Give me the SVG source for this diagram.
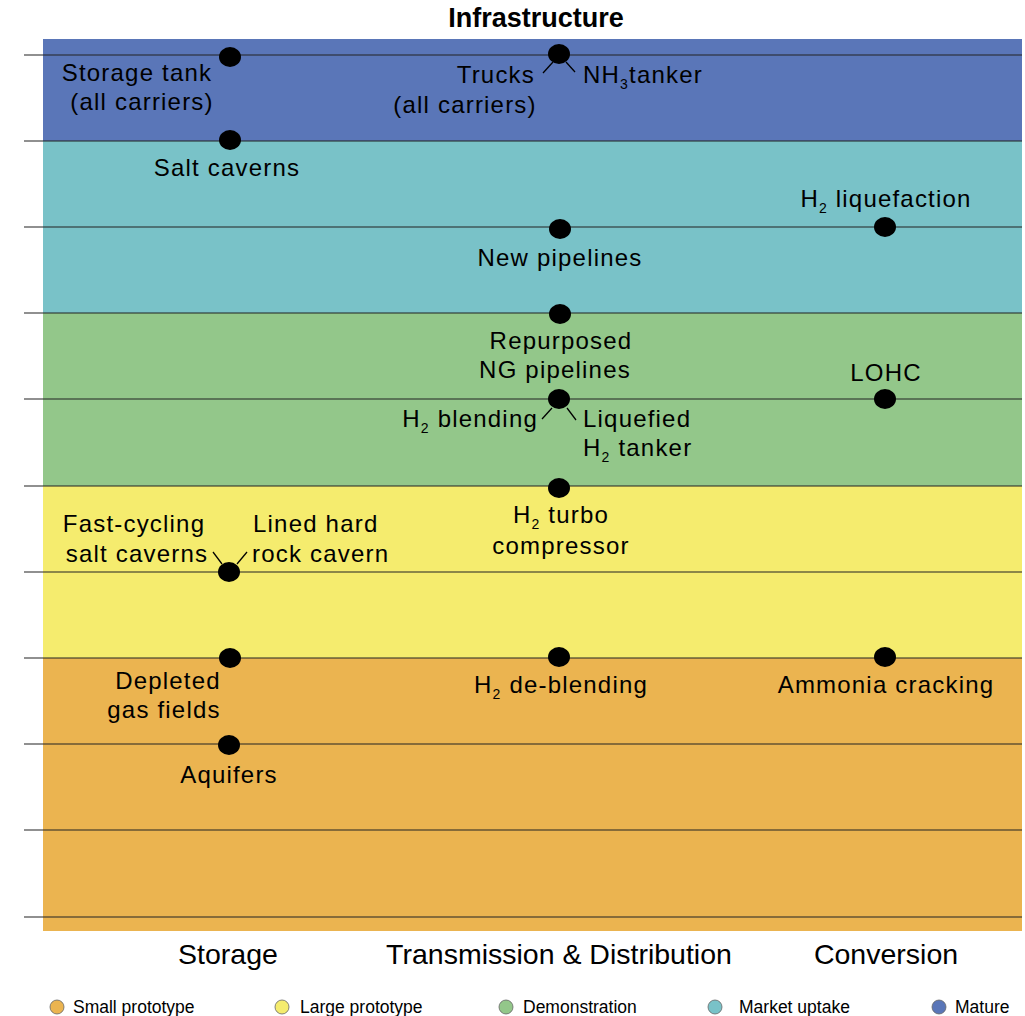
<svg xmlns="http://www.w3.org/2000/svg" width="1025" height="1016" viewBox="0 0 1025 1016">
<style>
.lbl{font-family:"Liberation Sans",Arial,sans-serif;font-size:24px;letter-spacing:1.2px;fill:#000}
.sub{font-size:14px}
.col{font-family:"Liberation Sans",Arial,sans-serif;font-size:28.5px;fill:#000}
.leg{font-family:"Liberation Sans",Arial,sans-serif;font-size:17.5px;fill:#000}
.grid{stroke:#222;stroke-width:1.2}
.dot{fill:#000}
.tick{stroke:#000;stroke-width:1.3;fill:none}
</style>
<rect width="1025" height="1016" fill="#fff"/>
<g id="bands">
<rect x="43" y="39" width="979" height="102" fill="#5A76B8"/>
<rect x="43" y="141" width="979" height="172" fill="#79C2C8"/>
<rect x="43" y="313" width="979" height="173" fill="#93C78A"/>
<rect x="43" y="486" width="979" height="172" fill="#F5EC6E"/>
<rect x="43" y="658" width="979" height="273" fill="#EBB450"/>
</g>
<g id="gridlines" class="grid">
<line x1="24" y1="55" x2="1022" y2="55"/>
<line x1="24" y1="141" x2="1022" y2="141"/>
<line x1="24" y1="227" x2="1022" y2="227"/>
<line x1="24" y1="313" x2="1022" y2="313"/>
<line x1="24" y1="399" x2="1022" y2="399"/>
<line x1="24" y1="486" x2="1022" y2="486"/>
<line x1="24" y1="572" x2="1022" y2="572"/>
<line x1="24" y1="658" x2="1022" y2="658"/>
<line x1="24" y1="744" x2="1022" y2="744"/>
<line x1="24" y1="830" x2="1022" y2="830"/>
<line x1="24" y1="917" x2="1022" y2="917"/>
</g>
<text x="536" y="27" text-anchor="middle" font-family="Liberation Sans,Arial,sans-serif" font-size="27" font-weight="bold">Infrastructure</text>
<g id="connectors" class="tick">
<line x1="553" y1="62" x2="543" y2="73"/>
<line x1="566" y1="62" x2="575" y2="72"/>
<line x1="552" y1="408" x2="542" y2="419"/>
<line x1="567" y1="408" x2="576" y2="420"/>
<line x1="222" y1="564" x2="213" y2="552"/>
<line x1="237" y1="564" x2="247" y2="552"/>
</g>
<g id="storage-tank"><ellipse class="dot" cx="230" cy="57" rx="11" ry="10"/><text class="lbl" x="137" y="81" text-anchor="middle">Storage tank</text><text class="lbl" x="142" y="110" text-anchor="middle">(all carriers)</text></g>
<g id="salt-caverns"><ellipse class="dot" cx="230" cy="140" rx="11" ry="10"/><text class="lbl" x="227" y="176" text-anchor="middle">Salt caverns</text></g>
<g id="trucks-nh3"><ellipse class="dot" cx="559" cy="54" rx="11" ry="10"/><text class="lbl" x="535" y="83" text-anchor="end">Trucks</text><text class="lbl" x="465" y="113" text-anchor="middle">(all carriers)</text><text class="lbl" x="583" y="83">NH<tspan class="sub" dy="6">3</tspan><tspan dy="-6">tanker</tspan></text></g>
<g id="new-pipelines"><ellipse class="dot" cx="560" cy="229" rx="11" ry="10"/><text class="lbl" x="560" y="266" text-anchor="middle">New pipelines</text></g>
<g id="h2-liquefaction"><ellipse class="dot" cx="885" cy="227" rx="11" ry="10"/><text class="lbl" x="886" y="207" text-anchor="middle">H<tspan class="sub" dy="6">2</tspan><tspan dy="-6"> liquefaction</tspan></text></g>
<g id="repurposed"><ellipse class="dot" cx="560" cy="314" rx="11" ry="10"/><text class="lbl" x="561" y="349" text-anchor="middle">Repurposed</text><text class="lbl" x="555" y="378" text-anchor="middle">NG pipelines</text></g>
<g id="lohc"><ellipse class="dot" cx="885" cy="399" rx="11" ry="10"/><text class="lbl" x="886" y="381" text-anchor="middle">LOHC</text></g>
<g id="h2-blending"><ellipse class="dot" cx="559" cy="399" rx="11" ry="10"/><text class="lbl" x="538" y="427" text-anchor="end">H<tspan class="sub" dy="6">2</tspan><tspan dy="-6"> blending</tspan></text><text class="lbl" x="583" y="427">Liquefied</text><text class="lbl" x="583" y="456">H<tspan class="sub" dy="6">2</tspan><tspan dy="-6"> tanker</tspan></text></g>
<g id="h2-turbo"><ellipse class="dot" cx="559" cy="488" rx="11" ry="10"/><text class="lbl" x="561" y="523" text-anchor="middle">H<tspan class="sub" dy="6">2</tspan><tspan dy="-6"> turbo</tspan></text><text class="lbl" x="561" y="554" text-anchor="middle">compressor</text></g>
<g id="fast-cycling"><ellipse class="dot" cx="229" cy="572" rx="11" ry="10"/><text class="lbl" x="134" y="532" text-anchor="middle">Fast-cycling</text><text class="lbl" x="137" y="562" text-anchor="middle">salt caverns</text><text class="lbl" x="253" y="532">Lined hard</text><text class="lbl" x="252" y="562">rock cavern</text></g>
<g id="depleted"><ellipse class="dot" cx="230" cy="658" rx="11" ry="10"/><text class="lbl" x="168" y="689" text-anchor="middle">Depleted</text><text class="lbl" x="164" y="718" text-anchor="middle">gas fields</text></g>
<g id="h2-deblending"><ellipse class="dot" cx="559" cy="657" rx="11" ry="10"/><text class="lbl" x="561" y="693" text-anchor="middle">H<tspan class="sub" dy="6">2</tspan><tspan dy="-6"> de-blending</tspan></text></g>
<g id="ammonia-cracking"><ellipse class="dot" cx="885" cy="657" rx="11" ry="10"/><text class="lbl" x="886" y="693" text-anchor="middle">Ammonia cracking</text></g>
<g id="aquifers"><ellipse class="dot" cx="229" cy="745" rx="11" ry="10"/><text class="lbl" x="229" y="783" text-anchor="middle">Aquifers</text></g>
<g id="columns">
<text class="col" x="228" y="964" text-anchor="middle">Storage</text>
<text class="col" x="559" y="964" text-anchor="middle">Transmission &amp; Distribution</text>
<text class="col" x="886" y="964" text-anchor="middle">Conversion</text>
</g>
<g id="legend" stroke="#666" stroke-width="0.8">
<circle cx="57" cy="1007" r="7" fill="#EBB450"/><text class="leg" x="73" y="1013" stroke="none">Small prototype</text>
<circle cx="282" cy="1007" r="7" fill="#F5EC6E"/><text class="leg" x="300" y="1013" stroke="none">Large prototype</text>
<circle cx="506" cy="1007" r="7" fill="#93C78A"/><text class="leg" x="523" y="1013" stroke="none">Demonstration</text>
<circle cx="715" cy="1007" r="7" fill="#79C2C8"/><text class="leg" x="739" y="1013" stroke="none">Market uptake</text>
<circle cx="939" cy="1007" r="7" fill="#5A76B8"/><text class="leg" x="955" y="1013" stroke="none">Mature</text>
</g>
</svg>
